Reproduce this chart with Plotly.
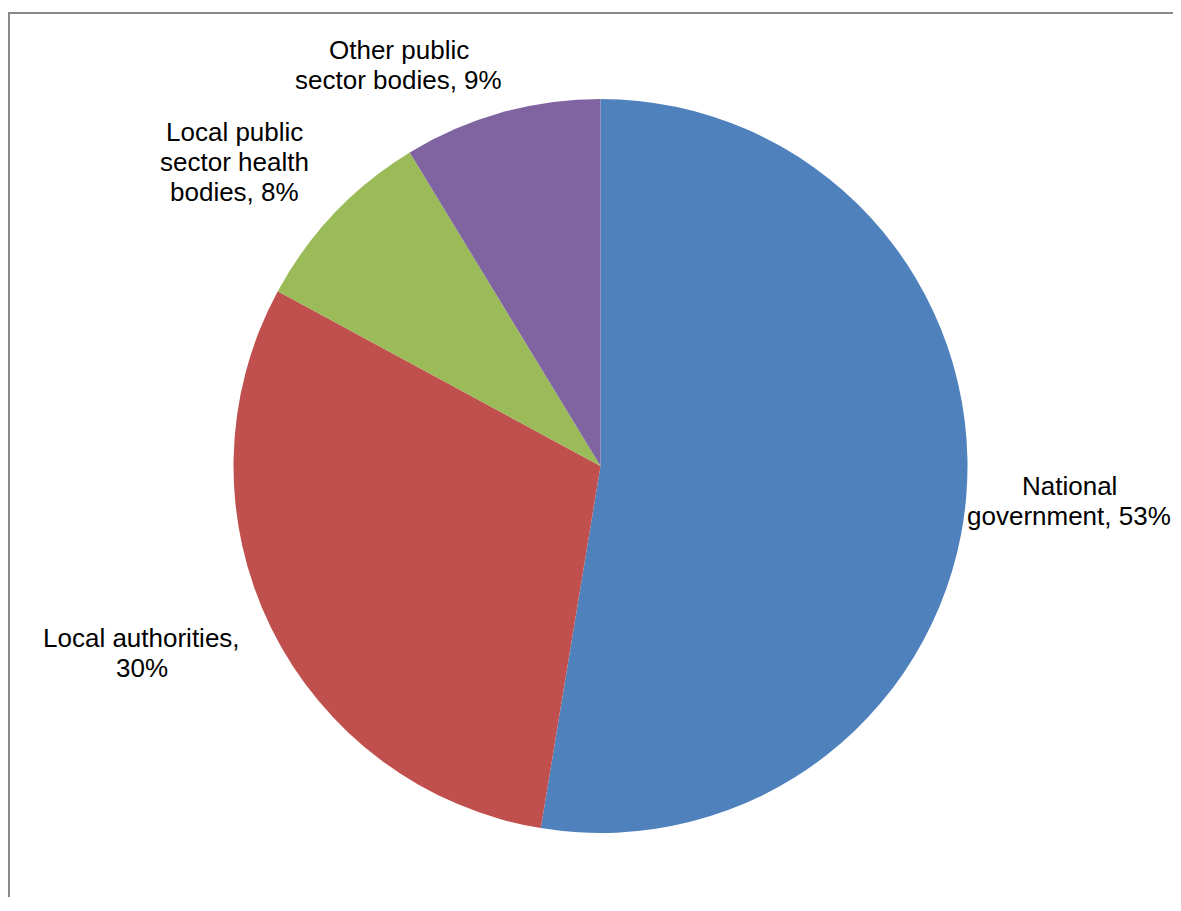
import plotly.graph_objects as go

categories = ["National government", "Local authorities",
              "Local public sector health bodies", "Other public sector bodies"]
values = [52.6, 30.3, 8.4, 8.7]
display_pct = ["53%", "30%", "8%", "9%"]
# label lines as laid out in the chart
label_lines = [
    ["National", "government, 53%"],
    ["Local authorities,", "30%"],
    ["Local public", "sector health", "bodies, 8%"],
    ["Other public", "sector bodies, 9%"],
]
colors = ["#4F81BD", "#C0504D", "#9BBB59", "#8064A2"]

# page body has an 8px margin; figure sized to fit inside the viewport
OFF = 8
W, H = 1165, 889

def px_x(px):
    return (px - OFF) / W

def px_y(py):
    return 1 - (py - OFF) / H

fig = go.Figure()
fig.add_trace(go.Pie(
    labels=categories,
    values=values,
    sort=False,
    direction="clockwise",
    rotation=0,
    marker=dict(colors=colors, line=dict(width=0)),
    textinfo="none",
    hoverinfo="label+percent",
    showlegend=False,
    domain=dict(x=[px_x(233), px_x(968)], y=[px_y(833), px_y(99)]),
))

# label block positions: center x, first-line center y (page px); line spacing 30px
label_pos = [(1069, 486), (141.5, 638), (234, 132), (398.5, 50)]
LINE = 30
for lines, (cx, cy) in zip(label_lines, label_pos):
    for i, line in enumerate(lines):
        fig.add_annotation(
            x=px_x(cx), y=px_y(cy + i * LINE), xref="paper", yref="paper",
            text=line, showarrow=False, xanchor="center", yanchor="middle",
            align="center",
            font=dict(family="Liberation Sans, Arial, sans-serif", size=26,
                      color="#000000"),
        )

fig.add_shape(type="rect", xref="paper", yref="paper",
              x0=1 / W, x1=1.05, y0=-0.05, y1=1 - 5 / H,
              line=dict(color="#898989", width=2), fillcolor="rgba(0,0,0,0)")

fig.update_layout(
    width=W, height=H,
    margin=dict(l=0, r=0, t=0, b=0),
    paper_bgcolor="white", plot_bgcolor="white",
)

fig.write_html("out.html")
